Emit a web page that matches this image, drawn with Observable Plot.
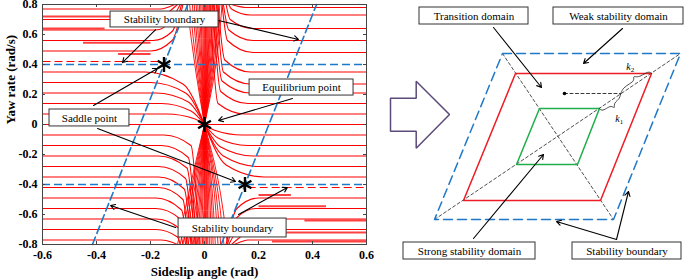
<!DOCTYPE html>
<html><head><meta charset="utf-8">
<script src="https://cdn.jsdelivr.net/npm/d3@7"></script>
<script src="https://cdn.jsdelivr.net/npm/@observablehq/plot@0.6"></script>
<style>
body{margin:0;background:#fff;}
#wrap{display:flex;width:685px;height:280px;overflow:hidden;}
#wrap svg{display:block;flex:none;}
</style></head><body><div id="wrap"></div>
<script>
// ---------- Left panel: phase portrait ----------
const xTicks = [-0.6,-0.4,-0.2,0,0.2,0.4,0.6];
const xTickLabels = ["-0.6","-0.4","-0.2","0","0.2","0.4","0.6"];
const yTicks = [-0.8,-0.6,-0.4,-0.2,0,0.2,0.4,0.6,0.8];
const yTickLabels = ["-0.8","-0.6","-0.4","-0.2","0","0.2","0.4","0.6","0.8"];

// trajectories entering from the left edge: [r0, betaTurn, betaMid, rMid, betaEnd, rEnd]
const leftFlows = [
 [0.77,-0.16,-0.13,0.785,-0.11,0.8],
 [0.70,-0.18,-0.14,0.74,-0.10,0.8],
 [0.63,-0.18,-0.13,0.68,-0.09,0.8],
 [0.56,-0.19,-0.12,0.62,-0.085,0.8],
 [0.49,-0.20,-0.12,0.56,-0.08,0.8],
 [0.35,-0.22,-0.08,0.27,0,0],
 [0.28,-0.20,-0.07,0.21,0,0],
 [0.21,-0.18,-0.06,0.15,0,0],
 [0.14,-0.16,-0.05,0.09,0,0],
 [0.07,-0.14,-0.04,0.04,0,0],
 [-0.07,-0.15,-0.05,-0.14,-0.02,-0.8],
 [-0.14,-0.16,-0.06,-0.22,-0.03,-0.8],
 [-0.21,-0.17,-0.065,-0.29,-0.035,-0.8],
 [-0.28,-0.17,-0.07,-0.36,-0.045,-0.8],
 [-0.35,-0.17,-0.075,-0.43,-0.05,-0.8],
 [-0.42,-0.17,-0.08,-0.50,-0.06,-0.8],
 [-0.49,-0.18,-0.085,-0.57,-0.065,-0.8],
 [-0.56,-0.18,-0.09,-0.63,-0.07,-0.8],
 [-0.63,-0.18,-0.095,-0.69,-0.08,-0.8],
 [-0.70,-0.18,-0.10,-0.75,-0.09,-0.8],
 [-0.77,-0.16,-0.12,-0.785,-0.10,-0.8]
];
// trajectories entering from the right edge: [r0, betaTurn, betaMid, rMid, betaEnd, rEnd]
const rightFlows = [
 [-0.77,0.16,0.13,-0.785,0.11,-0.8],
 [-0.70,0.18,0.14,-0.74,0.10,-0.8],
 [-0.63,0.18,0.13,-0.68,0.09,-0.8],
 [-0.56,0.19,0.12,-0.62,0.085,-0.8],
 [-0.49,0.20,0.12,-0.56,0.08,-0.8],
 [-0.35,0.22,0.08,-0.27,0,0],
 [-0.28,0.20,0.07,-0.21,0,0],
 [-0.21,0.18,0.06,-0.15,0,0],
 [-0.14,0.16,0.05,-0.09,0,0],
 [-0.07,0.14,0.04,-0.04,0,0],
 [0.07,0.15,0.05,0.14,0.02,0.8],
 [0.14,0.16,0.06,0.22,0.03,0.8],
 [0.21,0.17,0.065,0.29,0.035,0.8],
 [0.27,0.17,0.07,0.35,0.045,0.8],
 [0.35,0.17,0.075,0.43,0.05,0.8],
 [0.48,0.18,0.085,0.56,0.065,0.8],
 [0.56,0.18,0.09,0.63,0.07,0.8],
 [0.64,0.18,0.095,0.70,0.08,0.8],
 [0.73,0.17,0.10,0.77,0.09,0.8],
 [0.78,0.15,0.12,0.79,0.10,0.8]
];
// dense bundle from the top edge into the equilibrium: [betaTop, betaAt0.35]
const topBundle = [
 [-0.065,-0.032],[-0.055,-0.027],[-0.045,-0.022],[-0.038,-0.018],[-0.031,-0.014],[-0.025,-0.011],
 [-0.019,-0.008],[-0.014,-0.006],[-0.009,-0.003],[-0.004,-0.001],[0,0.001],[0.004,0.003],[0.008,0.005],
 [0.012,0.007],[0.016,0.009],[0.02,0.011],[0.024,0.013],[0.028,0.016],[0.033,0.019],[0.038,0.022],
 [0.044,0.025],[0.05,0.029],[0.057,0.033],[0.065,0.038]
];
// dense bundle from the bottom edge into the equilibrium: [betaBottom, betaAt-0.35]
const bottomBundle = [
 [-0.10,-0.045],[-0.09,-0.04],[-0.08,-0.035],[-0.07,-0.03],[-0.06,-0.025],[-0.05,-0.02],[-0.042,-0.016],
 [-0.034,-0.012],[-0.027,-0.009],[-0.02,-0.006],[-0.014,-0.003],[-0.008,0],[-0.003,0.002],[0.002,0.005],
 [0.007,0.007],[0.012,0.01],[0.018,0.013],[0.025,0.016],[0.032,0.02],[0.04,0.024],[0.05,0.03],
 [0.06,0.035],[0.072,0.041],[0.085,0.048]
];
// short thicker segments: [r, betaStart, betaEnd]
const stubs = [[0.64,-0.6,-0.37],[0.545,-0.45,-0.2],[0.47,-0.32,-0.2],[0.72,-0.6,-0.3],
               [-0.64,0.37,0.6],[-0.545,0.2,0.45],[-0.47,0.2,0.32],[-0.72,0.25,0.6],[-0.78,0.25,0.6]];
// separatrix segments next to the boundary: [r, betaStart, betaEnd]
const separatrix = [[0.42,-0.6,-0.16],[-0.42,0.16,0.6]];
const boundaryRates = [0.4,-0.4];
const boundaryDiagonals = [[[-0.415,-0.8],[-0.062,0.8]],[[0.062,-0.8],[0.415,0.8]]];
const criticalPoints = [[-0.15,0.4],[0,0],[0.15,-0.4]];

const leftLabels = [
 {text:"Stability boundary", x:-0.148, y:0.70, x1:-0.348, x2:0.052, y1:0.647, y2:0.753},
 {text:"Saddle point", x:-0.426, y:0.043, x1:-0.574, x2:-0.278, y1:-0.013, y2:0.10},
 {text:"Equilibrium point", x:0.359, y:0.247, x1:0.167, x2:0.552, y1:0.193, y2:0.30},
 {text:"Stability boundary", x:0.104, y:-0.69, x1:-0.096, x2:0.304, y1:-0.753, y2:-0.627}
];
const leftArrows = [
 {x1:-0.181,y1:0.633,x2:-0.304,y2:0.413},
 {x1:0.052,y1:0.693,x2:0.348,y2:0.567},
 {x1:-0.411,y1:0.127,x2:-0.174,y2:0.373},
 {x1:-0.396,y1:-0.027,x2:0.115,y2:-0.38},
 {x1:0.326,y1:0.173,x2:0.052,y2:0.027},
 {x1:-0.107,y1:-0.687,x2:-0.348,y2:-0.54},
 {x1:0.126,y1:-0.60,x2:0.307,y2:-0.42}
];

// ---------- Right panel: domain schematic (diagram units) ----------
const weakDomain = [[12.7,22.7],[30.5,22.7],[23.8,6.1],[5.9,6.1]];
const transitionDomain = [[14.0,20.7],[27.6,20.7],[22.5,8.0],[8.8,8.0]];
const strongDomain = [[16.4,17.2],[22.4,17.2],[20.2,11.6],[14.1,11.6]];
const schematicDiagonals = [[[12.7,22.7],[23.8,6.1]],[[5.9,6.1],[30.5,22.7]]];
const probePoint = [18.9,18.7];
const probeLine = [[18.9,18.7],[24.5,18.7]];
const braceK2 = [[27.6,20.7],[27.3,20.95],[26.5,20.4],[26.05,20.35],[25.75,20.45],[25.9,20.0],[25.45,19.7],[24.75,19.25],[24.55,18.75],[24.5,18.6]];
const braceK1 = [[24.5,18.6],[24.4,18.15],[23.95,17.85],[23.85,17.5],[23.95,17.2],[23.55,17.5],[23.1,17.2],[22.6,16.95],[22.4,17.2]];
const braceLabels = [{t:"k",s:"2",x:25.3,y:21.35},{t:"k",s:"1",x:24.2,y:16.2}];
const hollowArrow = [[1.5,18.23],[4.07,18.23],[4.07,19.93],[7.4,16.6],[4.07,13.23],[4.07,14.93],[1.5,14.93]];
const rightLabels = [
 {text:"Transition domain", x:9.85, y:26.45, x1:4.4, x2:15.3, y1:25.6, y2:27.3},
 {text:"Weak stability domain", x:24.3, y:26.45, x1:17.8, x2:30.8, y1:25.6, y2:27.3},
 {text:"Strong stability domain", x:9.4, y:2.95, x1:2.8, x2:16.0, y1:2.1, y2:3.8},
 {text:"Stability boundary", x:25.15, y:2.95, x1:19.7, x2:30.6, y1:2.1, y2:3.8}
];
const rightArrows = [
 {x1:11.8,y1:25.3,x2:16.6,y2:19.3},
 {x1:24.7,y1:25.2,x2:20.8,y2:21.7},
 {x1:9.8,y1:4.2,x2:16.8,y2:12.6},
 {x1:24.1,y1:4.1,x2:18.1,y2:5.9},
 {x1:24.1,y1:4.1,x2:25.3,y2:8.9}
];

// ---------- build rows ----------
const RED = "#ff0000", BLUE = "#1f78c8";
const flowRows = [];
leftFlows.forEach((f,i)=>{const [r0,bt,bm,rm,be,re]=f;
  [[-0.6,r0],[bt,r0],[bm,rm],[be,re]].forEach(p=>flowRows.push({id:"L"+i,x:p[0],y:p[1]}));});
rightFlows.forEach((f,i)=>{const [r0,bt,bm,rm,be,re]=f;
  [[be,re],[bm,rm],[bt,r0],[0.6,r0]].forEach(p=>flowRows.push({id:"R"+i,x:p[0],y:p[1]}));});
flowRows.push({id:"Z",x:-0.6,y:0},{id:"Z",x:0.6,y:0});
const bundleRows = [];
topBundle.forEach((b,i)=>{[[0,0],[b[1],0.35],[b[0],0.8]].forEach(p=>bundleRows.push({id:"T"+i,x:p[0],y:p[1]}));});
bottomBundle.forEach((b,i)=>{[[b[0],-0.8],[b[1],-0.35],[0,0]].forEach(p=>bundleRows.push({id:"B"+i,x:p[0],y:p[1]}));});
const diagRows = [];
boundaryDiagonals.forEach((d,i)=>d.forEach(p=>diagRows.push({id:i,x:p[0],y:p[1]})));

const serif = "Liberation Serif";
const left = Plot.plot({
  width: 375, height: 280,
  marginLeft: 42, marginRight: 9, marginTop: 4, marginBottom: 36,
  style: {fontFamily: serif, fontSize: "12px", fontWeight: "bold", background: "#fff", overflow: "visible"},
  x: {domain: [-0.6,0.6]},
  y: {domain: [-0.8,0.8]},
  marks: [
    Plot.line(flowRows, {x:"x", y:"y", z:"id", stroke:RED, strokeWidth:1.1, curve:"monotone-x", clip:true}),
    Plot.line(bundleRows, {x:"x", y:"y", z:"id", stroke:RED, strokeWidth:0.9, curve:"monotone-y", clip:true}),
    Plot.link(stubs, {x1:d=>d[1], x2:d=>d[2], y1:d=>d[0], y2:d=>d[0], stroke:RED, strokeWidth:2, strokeOpacity:0.75}),
    Plot.link(separatrix, {x1:d=>d[1], x2:d=>d[2], y1:d=>d[0], y2:d=>d[0], stroke:RED, strokeWidth:1.1, strokeDasharray:"8,4"}),
    Plot.ruleY(boundaryRates, {stroke:BLUE, strokeWidth:1.6, strokeDasharray:"8,4"}),
    Plot.line(diagRows, {x:"x", y:"y", z:"id", stroke:BLUE, strokeWidth:1.6, strokeDasharray:"8,4"}),
    Plot.frame({stroke:"#444", strokeWidth:1}),
    Plot.ruleX(xTicks, {y1:-0.8, y2:-0.78, stroke:"#444"}),
    Plot.ruleX(xTicks, {y1:0.8, y2:0.78, stroke:"#444"}),
    Plot.ruleY(yTicks, {x1:-0.6, x2:-0.589, stroke:"#444"}),
    Plot.ruleY(yTicks, {x1:0.6, x2:0.589, stroke:"#444"}),
    Plot.axisX({ticks:xTicks, tickSize:0, tickPadding:6, tickFormat:(d,i)=>xTickLabels[i], label:null}),
    Plot.axisY({ticks:yTicks, tickSize:0, tickPadding:5, tickFormat:(d,i)=>yTickLabels[i], label:null}),
    Plot.text(["Sideslip angle (rad)"], {frameAnchor:"bottom", dy:31, fontSize:13, fontWeight:"bold"}),
    Plot.text(["Yaw rate (rad/s)"], {frameAnchor:"left", dx:-32, rotate:-90, fontSize:13, fontWeight:"bold"}),
    Plot.arrow(leftArrows, {x1:"x1", y1:"y1", x2:"x2", y2:"y2", stroke:"black", strokeWidth:1.1, headLength:7}),
    Plot.rect(leftLabels, {x1:"x1", x2:"x2", y1:"y1", y2:"y2", fill:"white", stroke:"#333", strokeWidth:1}),
    Plot.text(leftLabels, {x:"x", y:"y", text:"text", fontSize:11, fontWeight:"normal", fill:"black"}),
    Plot.dot(criticalPoints, {x:d=>d[0], y:d=>d[1], symbol:"asterisk", r:7, stroke:"black", strokeWidth:2.4})
  ]
});

const polyRows = (pts, id) => pts.concat([pts[0]]).map(p => ({id, x:p[0], y:p[1]}));
const schemDiagRows = [];
schematicDiagonals.forEach((d,i)=>d.forEach(p=>schemDiagRows.push({id:i,x:p[0],y:p[1]})));
const right = Plot.plot({
  width: 310, height: 280, margin: 0,
  style: {fontFamily: serif, fontSize: "11px", background: "#fff", overflow: "visible"},
  x: {domain: [0,31], axis: null},
  y: {domain: [0,28], axis: null},
  marks: [
    Plot.line(polyRows(hollowArrow,"a"), {x:"x", y:"y", stroke:"#5b4a7a", strokeWidth:1.5, strokeLinejoin:"miter"}),
    Plot.line(schemDiagRows, {x:"x", y:"y", z:"id", stroke:"#222", strokeWidth:0.8, strokeDasharray:"3,2.5"}),
    Plot.line(probeLine, {x:d=>d[0], y:d=>d[1], stroke:"#222", strokeWidth:0.9, strokeDasharray:"3,2.5"}),
    Plot.dot([probePoint], {x:d=>d[0], y:d=>d[1], r:1.8, fill:"black"}),
    Plot.line(polyRows(weakDomain,"w"), {x:"x", y:"y", stroke:BLUE, strokeWidth:1.5, strokeDasharray:"9,5"}),
    Plot.line(polyRows(transitionDomain,"t"), {x:"x", y:"y", stroke:"#ee1c24", strokeWidth:1.5}),
    Plot.line(polyRows(strongDomain,"s"), {x:"x", y:"y", stroke:"#1fae4b", strokeWidth:1.5}),
    Plot.line(braceK2, {x:d=>d[0], y:d=>d[1], stroke:"#222", strokeWidth:0.8, curve:"basis"}),
    Plot.line(braceK1, {x:d=>d[0], y:d=>d[1], stroke:"#222", strokeWidth:0.8, curve:"basis"}),
    Plot.text(braceLabels, {x:"x", y:"y", text:"t", fontSize:10, fontStyle:"italic"}),
    Plot.text(braceLabels, {x:"x", y:"y", text:"s", fontSize:7, dx:4, dy:3}),
    Plot.arrow(rightArrows, {x1:"x1", y1:"y1", x2:"x2", y2:"y2", stroke:"black", strokeWidth:1.1, headLength:7}),
    Plot.rect(rightLabels, {x1:"x1", x2:"x2", y1:"y1", y2:"y2", fill:"white", stroke:"#333", strokeWidth:1}),
    Plot.text(rightLabels, {x:"x", y:"y", text:"text", fontSize:11, fill:"black"})
  ]
});
const wrap = document.getElementById("wrap");
wrap.appendChild(left);
wrap.appendChild(right);
</script></body></html>
